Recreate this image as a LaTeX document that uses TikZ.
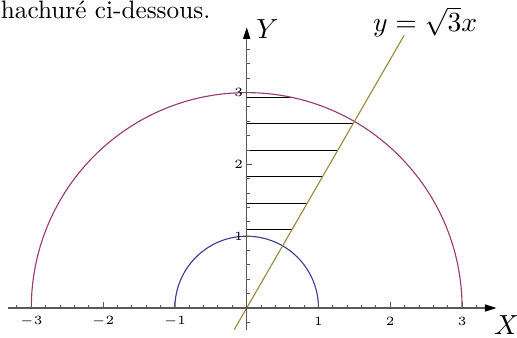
\documentclass[tikz,border=0pt]{standalone}
\usetikzlibrary{arrows.meta}
\definecolor{cblue}{rgb}{0.24,0.24,0.6}
\definecolor{cpurple}{rgb}{0.6,0.24,0.443}
\definecolor{cgold}{rgb}{0.6,0.547,0.24}
\definecolor{axisgray}{gray}{0.35}
\begin{document}
\begin{tikzpicture}[x=1cm,y=1cm,
  axisline/.style={draw=axisgray,line width=0.55pt},
  tickmark/.style={draw=axisgray,line width=0.4pt},
  ticklabel/.style={font=\fontsize{4.7}{5}\selectfont,inner sep=0pt},
  curve/.style={line width=0.45pt},
  hatchline/.style={draw=black,line width=0.4pt},
  axislabel/.style={font=\fontsize{11}{13}\selectfont,inner sep=0pt},
  tipstyle/.style={-{Triangle[length=4.6pt,width=2.8pt,color=black]}}]
\useasboundingbox (-3.436,-0.404) rectangle (3.765,4.290);
% caption line of the surrounding text
\node[anchor=base west,inner sep=0pt] (caption) at (-3.43,4.035) {hachuré ci-dessous.};
% hatching
\foreach \yy in {1.087,1.457,1.827,2.197,2.567}
  \draw[hatchline] (0,\yy) -- ({\yy/sqrt(3)},\yy);
\draw[hatchline] (0,2.937) -- ({sqrt(9-2.937*2.937)},2.937);
% circles
\draw[curve,cpurple] (3,0) arc[start angle=0,end angle=180,radius=3];
\draw[curve,cblue] (1,0) arc[start angle=0,end angle=180,radius=1];
% line y = sqrt(3) x
\draw[curve,cgold] (-0.1732,-0.3) -- (2.194,3.8);
% ticks
\foreach \i in {-16,...,16}
  \draw[tickmark] (\i/5,0) -- (\i/5,0.045);
\foreach \i in {-3,-2,-1,1,2,3}
  \draw[tickmark] (\i,0) -- (\i,0.08);
\foreach \i in {-1,...,18}
  \draw[tickmark] (0,\i/5) -- (0.045,\i/5);
\foreach \i in {1,2,3}
  \draw[tickmark] (0,\i) -- (0.075,\i);
% axes
\draw[axisline,tipstyle] (-3.33,0) -- (3.48,0);
\draw[axisline,tipstyle] (0,-0.3) -- (0,3.91);
% tick labels
\foreach \i/\t in {-3/-3,-2/-2,-1/-1,1/1,2/2,3/3}
  \node[ticklabel] (xl\i) at (\i,-0.187) {$\t$};
\foreach \i in {1,2,3}
  \node[ticklabel,anchor=east] (yl\i) at (-0.045,\i) {$\i$};
% axis labels
\node[axislabel,anchor=base] (ylab) at (0.29,3.76) {$Y$};
\node[axislabel,anchor=base] (xlab) at (3.62,-0.375) {$X$};
\node[anchor=base,inner sep=0pt,font=\fontsize{10.6}{12}\selectfont] (eq) at (2.486,3.845) {$y=\sqrt{3}x$};
\end{tikzpicture}
\end{document}
